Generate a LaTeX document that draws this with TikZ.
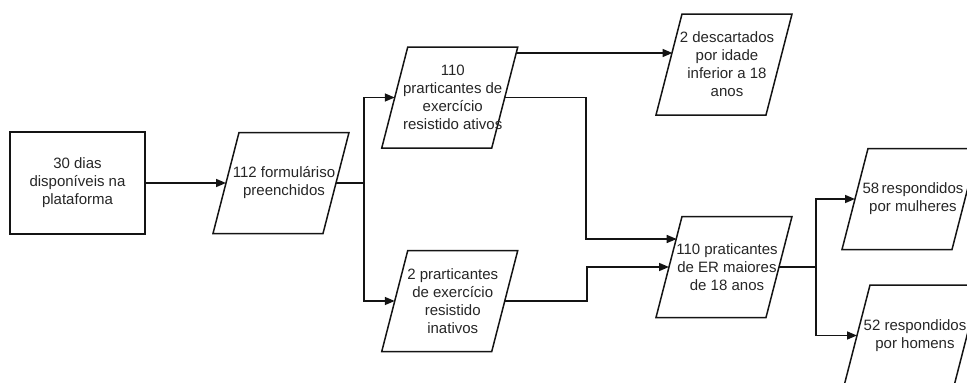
\documentclass[tikz,border=0pt]{standalone}
\usepackage{fontspec}
\setmainfont{Liberation Sans}
\usetikzlibrary{arrows.meta}
\definecolor{txt}{HTML}{262626}
\definecolor{ln}{HTML}{141414}
\tikzset{
  lbl/.style={align=center, text=txt, font=\fontsize{15}{18}\selectfont, inner sep=0pt},
  shapeline/.style={draw=ln, line width=1.5pt, line join=miter},
  conn/.style={draw=ln, line width=1.5pt},
  arr/.style={conn, -{Triangle[length=10pt,width=8pt]}}
}
% name, cx, cy, text (parallelogram 110 wide, 101 high, slant 26)
\newcommand\pgram[4]{%
  \draw[shapeline] (#2-42,#3-50.5) -- (#2+68,#3-50.5) -- (#2+42,#3+50.5) -- (#2-68,#3+50.5) -- cycle;
  \node[lbl] (#1) at (#2+3,#3) {#4};
  \coordinate (#1-w) at (#2-55,#3);
  \coordinate (#1-e) at (#2+55,#3);
}
\begin{document}
\begin{tikzpicture}[x=1pt,y=-1pt]
\useasboundingbox (0,0) rectangle (967,383);
\clip (0,0) rectangle (967,383);

\node[lbl, draw=ln, line width=1.5pt, minimum width=135pt, minimum height=102pt] (r1) at (77.5,183)
  {30 dias\\disponíveis na\\plataforma};

\pgram{p2}{281}{183}{112 formuláriso\\preenchidos}
\pgram{p3}{449.75}{97.5}{110\\prarticantes de\\exercício\\resistido ativos}
\pgram{p4}{449.75}{301}{2 prarticantes\\de exercício\\resistido\\inativos}
\pgram{d}{724}{64.5}{2 descartados\\por idade\\inferior a 18\\anos}
\pgram{er}{724}{267}{110 praticantes\\de ER maiores\\de 18 anos}
\pgram{m}{910}{199}{58\,respondidos\\por mulheres}
\pgram{h}{912}{335.5}{52 respondidos\\por homens}

\coordinate (p3-ne) at (516,53);
\coordinate (d-a) at (672.5,53);
\coordinate (er-a) at (676.7,239);
\coordinate (s1) at (364,183);
\coordinate (c1) at (586,0);
\coordinate (c2) at (587,0);
\coordinate (s2) at (816,267);

\draw[arr] (r1.east) -- (p2-w);
\draw[conn] (p2-e) -- (s1);
\draw[arr] (s1) |- (p3-w);
\draw[arr] (s1) |- (p4-w);
\draw[arr] (p3-ne) -- (d-a);
\draw[arr] (p3-e) -- (p3-e -| c1) |- (er-a);
\draw[arr] (p4-e) -- (p4-e -| c2) |- (er-w);
\draw[conn] (er-e) -- (s2);
\draw[arr] (s2) |- (m-w);
\draw[arr] (s2) |- (h-w);
\end{tikzpicture}
\end{document}
